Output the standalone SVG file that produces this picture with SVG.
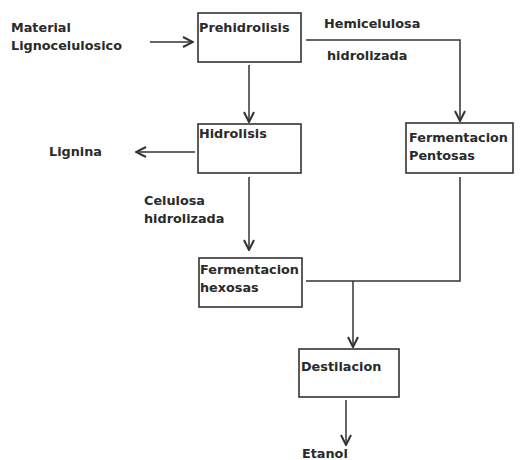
<svg xmlns="http://www.w3.org/2000/svg" width="524" height="460" viewBox="0 0 524 460">
<style>
text{font-family:"DejaVu Sans","Liberation Sans",sans-serif;font-weight:bold;font-size:12.8px;fill:#2a2a2a}
.box{fill:#fff;stroke:#333;stroke-width:1.6}
.ln{fill:none;stroke:#333;stroke-width:1.5}
</style>
<defs>
<marker id="ah" viewBox="0 0 12 12" refX="11" refY="6" markerWidth="12" markerHeight="12" markerUnits="userSpaceOnUse" orient="auto">
<path d="M1,1 L11,6 L1,11" fill="none" stroke="#333" stroke-width="2"/>
</marker>
</defs>
<rect width="524" height="460" fill="#fff"/>
<g id="connectors">
<path class="ln" d="M150,42 H193" marker-end="url(#ah)"/>
<path class="ln" d="M306,40 H460 V121" marker-end="url(#ah)"/>
<path class="ln" d="M249,65 V122" marker-end="url(#ah)"/>
<path class="ln" d="M195,152 H136" marker-end="url(#ah)"/>
<path class="ln" d="M249,177 V250" marker-end="url(#ah)"/>
<path class="ln" d="M306,281 H460 V177"/>
<path class="ln" d="M353,281 V347" marker-end="url(#ah)"/>
<path class="ln" d="M346,400 V445" marker-end="url(#ah)"/>
</g>
<g id="material"><text x="11" y="32">Material</text><text x="11" y="50">Lignocelulosico</text></g>
<g id="prehidrolisis"><rect class="box" x="198" y="13" width="103" height="49"/><text x="199" y="32">Prehidrolisis</text></g>
<g id="hemicelulosa"><text x="324" y="28">Hemicelulosa</text><text x="327" y="60">hidrolizada</text></g>
<g id="hidrolisis"><rect class="box" x="198" y="124" width="103" height="49"/><text x="199" y="138">Hidrolisis</text></g>
<g id="lignina"><text x="49" y="156">Lignina</text></g>
<g id="pentosas"><rect class="box" x="406" y="123" width="107" height="50"/><text x="409" y="142">Fermentacion</text><text x="409" y="160">Pentosas</text></g>
<g id="celulosa"><text x="144" y="205">Celulosa</text><text x="144" y="223">hidrolizada</text></g>
<g id="hexosas"><rect class="box" x="199" y="258" width="103" height="49"/><text x="200" y="274">Fermentacion</text><text x="200" y="292">hexosas</text></g>
<g id="destilacion"><rect class="box" x="299" y="349" width="100" height="48"/><text x="301" y="371">Destilacion</text></g>
<g id="etanol"><text x="302" y="458">Etanol</text></g>
</svg>
